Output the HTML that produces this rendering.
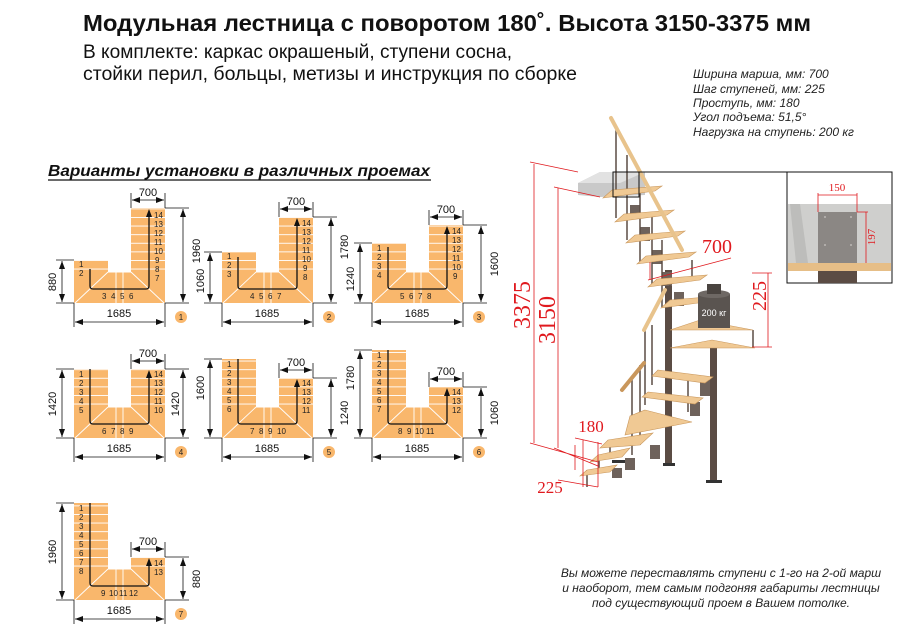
<!DOCTYPE html>
<html><head><meta charset="utf-8"><style>
html,body{margin:0;padding:0;background:#fff}
svg{display:block}
.t{font-family:"Liberation Sans","DejaVu Sans",sans-serif}
.n{font-family:"Liberation Sans Narrow","Liberation Sans",sans-serif;font-size:8px;fill:#222}
.d{font-family:"Liberation Sans Narrow","Liberation Sans",sans-serif;font-size:11px;fill:#111}
.r{font-family:"Liberation Serif",serif;fill:#e0191e}
.i{font-family:"Liberation Sans Narrow","Liberation Sans",sans-serif;font-style:italic;font-size:12px;fill:#222}
</style></head><body>
<svg width="900" height="637" viewBox="0 0 900 637" xmlns="http://www.w3.org/2000/svg">
<defs>
<pattern id="st" patternUnits="userSpaceOnUse" width="40" height="8.6"><rect width="40" height="8.6" fill="#f9b76c"/><rect width="40" height="0.9" fill="#fff"/></pattern>
<marker id="ah" markerWidth="8" markerHeight="8" refX="4" refY="4" orient="auto" markerUnits="userSpaceOnUse"><path d="M0,1 L8,4 L0,7 Z" fill="#111"/></marker>
<marker id="da" markerWidth="8" markerHeight="6" refX="8" refY="3" orient="auto-start-reverse" markerUnits="userSpaceOnUse"><path d="M0,0 L8,3 L0,6 Z" fill="#111"/></marker>
</defs>

<text class="t" x="83" y="31" font-size="23" font-weight="bold" fill="#111" textLength="728" lengthAdjust="spacingAndGlyphs">Модульная лестница с поворотом 180˚. Высота 3150-3375 мм</text>
<text class="t" x="83" y="58" font-size="19" fill="#111" textLength="429" lengthAdjust="spacingAndGlyphs">В комплекте: каркас окрашеный, ступени сосна,</text>
<text class="t" x="83" y="80" font-size="19" fill="#111" textLength="494" lengthAdjust="spacingAndGlyphs">стойки перил, больцы, метизы и инструкция по сборке</text>

<text class="i" x="693" y="78">Ширина марша, мм: 700</text>
<text class="i" x="693" y="93">Шаг ступеней, мм: 225</text>
<text class="i" x="693" y="107">Проступь, мм: 180</text>
<text class="i" x="693" y="121">Угол подъема: 51,5°</text>
<text class="i" x="693" y="136">Нагрузка на ступень: 200 кг</text>

<text class="t" x="48" y="176" font-size="16" font-weight="bold" font-style="italic" fill="#111" textLength="382" lengthAdjust="spacingAndGlyphs">Варианты установки в различных проемах</text>
<line x1="48" y1="180" x2="431" y2="180" stroke="#111" stroke-width="1.2"/>

<!-- PLAN 1 -->
<g transform="translate(74,303)">
<rect x="0" y="-43" width="34" height="43" fill="url(#st)"/><rect x="57" y="-95" width="34" height="95" fill="url(#st)"/><rect x="0" y="-31" width="91" height="31" fill="#f9b76c"/>
<g stroke="#fff" stroke-width="0.9"><line x1="34" y1="-31" x2="1" y2="0"/><line x1="57" y1="-31" x2="90" y2="0"/><line x1="42" y1="-31" x2="42" y2="0"/><line x1="49" y1="-31" x2="49" y2="0"/><line x1="34" y1="-31" x2="57" y2="-31"/></g>
<path d="M16,-34 V-17 Q16,-14 19,-14 H72 Q75,-14 75,-17 V-90" fill="none" stroke="#111" stroke-width="1.3" marker-end="url(#ah)"/>
<g class="n"><text x="5" y="-36">1</text><text x="5" y="-27">2</text><text x="28" y="-4">3</text><text x="37" y="-4">4</text><text x="46" y="-4">5</text><text x="55" y="-4">6</text>
<text x="80" y="-85">14</text><text x="80" y="-76">13</text><text x="80" y="-67">12</text><text x="80" y="-58">11</text><text x="80" y="-49">10</text><text x="81" y="-40">9</text><text x="81" y="-31">8</text><text x="81" y="-22">7</text></g>
<g stroke="#111" stroke-width="0.8" fill="none"><path d="M-18,0 H0 M-18,-43 H0 M91,0 H115 M91,-95 H115 M0,0 V24 M91,0 V24 M57,-95 V-110 M91,-95 V-110"/>
<line x1="-12" y1="-42" x2="-12" y2="-1" marker-start="url(#da)" marker-end="url(#da)"/><line x1="109" y1="-94" x2="109" y2="-1" marker-start="url(#da)" marker-end="url(#da)"/><line x1="1" y1="19" x2="90" y2="19" marker-start="url(#da)" marker-end="url(#da)"/><line x1="58" y1="-103" x2="90" y2="-103" marker-start="url(#da)" marker-end="url(#da)"/></g>
<g class="d"><text x="45" y="14" text-anchor="middle">1685</text><text x="74" y="-107" text-anchor="middle">700</text><text transform="translate(-18,-21) rotate(-90)" text-anchor="middle">880</text><text transform="translate(126,-52) rotate(-90)" text-anchor="middle">1960</text></g>
<circle cx="107" cy="14" r="6" fill="#f9b76c"/><text class="n" x="107" y="17" text-anchor="middle">1</text>
</g>

<!-- PLAN 2 -->
<g transform="translate(222,303)">
<rect x="0" y="-51" width="34" height="51" fill="url(#st)"/><rect x="57" y="-86" width="34" height="86" fill="url(#st)"/><rect x="0" y="-31" width="91" height="31" fill="#f9b76c"/>
<g stroke="#fff" stroke-width="0.9"><line x1="34" y1="-31" x2="1" y2="0"/><line x1="57" y1="-31" x2="90" y2="0"/><line x1="42" y1="-31" x2="42" y2="0"/><line x1="49" y1="-31" x2="49" y2="0"/><line x1="34" y1="-31" x2="57" y2="-31"/></g>
<path d="M16,-46 V-17 Q16,-14 19,-14 H72 Q75,-14 75,-17 V-81" fill="none" stroke="#111" stroke-width="1.3" marker-end="url(#ah)"/>
<g class="n"><text x="5" y="-44">1</text><text x="5" y="-35">2</text><text x="5" y="-26">3</text><text x="28" y="-4">4</text><text x="37" y="-4">5</text><text x="46" y="-4">6</text><text x="55" y="-4">7</text>
<text x="80" y="-77">14</text><text x="80" y="-68">13</text><text x="80" y="-59">12</text><text x="80" y="-50">11</text><text x="80" y="-41">10</text><text x="81" y="-32">9</text><text x="81" y="-23">8</text></g>
<g stroke="#111" stroke-width="0.8" fill="none"><path d="M-18,0 H0 M-18,-51 H0 M91,0 H115 M91,-86 H115 M0,0 V24 M91,0 V24 M57,-86 V-101 M91,-86 V-101"/>
<line x1="-12" y1="-50" x2="-12" y2="-1" marker-start="url(#da)" marker-end="url(#da)"/><line x1="109" y1="-85" x2="109" y2="-1" marker-start="url(#da)" marker-end="url(#da)"/><line x1="1" y1="19" x2="90" y2="19" marker-start="url(#da)" marker-end="url(#da)"/><line x1="58" y1="-94" x2="90" y2="-94" marker-start="url(#da)" marker-end="url(#da)"/></g>
<g class="d"><text x="45" y="14" text-anchor="middle">1685</text><text x="74" y="-98" text-anchor="middle">700</text><text transform="translate(-18,-22) rotate(-90)" text-anchor="middle">1060</text><text transform="translate(126,-56) rotate(-90)" text-anchor="middle">1780</text></g>
<circle cx="107" cy="14" r="6" fill="#f9b76c"/><text class="n" x="107" y="17" text-anchor="middle">2</text>
</g>

<!-- PLAN 3 -->
<g transform="translate(372,303)">
<rect x="0" y="-60" width="34" height="60" fill="url(#st)"/><rect x="57" y="-78" width="34" height="78" fill="url(#st)"/><rect x="0" y="-31" width="91" height="31" fill="#f9b76c"/>
<g stroke="#fff" stroke-width="0.9"><line x1="34" y1="-31" x2="1" y2="0"/><line x1="57" y1="-31" x2="90" y2="0"/><line x1="42" y1="-31" x2="42" y2="0"/><line x1="49" y1="-31" x2="49" y2="0"/><line x1="34" y1="-31" x2="57" y2="-31"/></g>
<path d="M16,-56 V-17 Q16,-14 19,-14 H72 Q75,-14 75,-17 V-73" fill="none" stroke="#111" stroke-width="1.3" marker-end="url(#ah)"/>
<g class="n"><text x="5" y="-52">1</text><text x="5" y="-43">2</text><text x="5" y="-34">3</text><text x="5" y="-25">4</text><text x="28" y="-4">5</text><text x="37" y="-4">6</text><text x="46" y="-4">7</text><text x="55" y="-4">8</text>
<text x="80" y="-69">14</text><text x="80" y="-60">13</text><text x="80" y="-51">12</text><text x="80" y="-42">11</text><text x="80" y="-33">10</text><text x="81" y="-24">9</text></g>
<g stroke="#111" stroke-width="0.8" fill="none"><path d="M-18,0 H0 M-18,-60 H0 M91,0 H115 M91,-78 H115 M0,0 V24 M91,0 V24 M57,-78 V-93 M91,-78 V-93"/>
<line x1="-12" y1="-59" x2="-12" y2="-1" marker-start="url(#da)" marker-end="url(#da)"/><line x1="109" y1="-77" x2="109" y2="-1" marker-start="url(#da)" marker-end="url(#da)"/><line x1="1" y1="19" x2="90" y2="19" marker-start="url(#da)" marker-end="url(#da)"/><line x1="58" y1="-86" x2="90" y2="-86" marker-start="url(#da)" marker-end="url(#da)"/></g>
<g class="d"><text x="45" y="14" text-anchor="middle">1685</text><text x="74" y="-90" text-anchor="middle">700</text><text transform="translate(-18,-24) rotate(-90)" text-anchor="middle">1240</text><text transform="translate(126,-39) rotate(-90)" text-anchor="middle">1600</text></g>
<circle cx="107" cy="14" r="6" fill="#f9b76c"/><text class="n" x="107" y="17" text-anchor="middle">3</text>
</g>

<!-- PLAN 4 -->
<g transform="translate(74,438)">
<rect x="0" y="-69" width="34" height="69" fill="url(#st)"/><rect x="57" y="-69" width="34" height="69" fill="url(#st)"/><rect x="0" y="-31" width="91" height="31" fill="#f9b76c"/>
<g stroke="#fff" stroke-width="0.9"><line x1="34" y1="-31" x2="1" y2="0"/><line x1="57" y1="-31" x2="90" y2="0"/><line x1="42" y1="-31" x2="42" y2="0"/><line x1="49" y1="-31" x2="49" y2="0"/><line x1="34" y1="-31" x2="57" y2="-31"/></g>
<path d="M16,-69 V-17 Q16,-14 19,-14 H72 Q75,-14 75,-17 V-64" fill="none" stroke="#111" stroke-width="1.3" marker-end="url(#ah)"/>
<g class="n"><text x="5" y="-61">1</text><text x="5" y="-52">2</text><text x="5" y="-43">3</text><text x="5" y="-34">4</text><text x="5" y="-25">5</text><text x="28" y="-4">6</text><text x="37" y="-4">7</text><text x="46" y="-4">8</text><text x="55" y="-4">9</text>
<text x="80" y="-61">14</text><text x="80" y="-52">13</text><text x="80" y="-43">12</text><text x="80" y="-34">11</text><text x="80" y="-25">10</text></g>
<g stroke="#111" stroke-width="0.8" fill="none"><path d="M-18,0 H0 M-18,-69 H0 M91,0 H115 M91,-69 H115 M0,0 V24 M91,0 V24 M57,-69 V-84 M91,-69 V-84"/>
<line x1="-12" y1="-68" x2="-12" y2="-1" marker-start="url(#da)" marker-end="url(#da)"/><line x1="109" y1="-68" x2="109" y2="-1" marker-start="url(#da)" marker-end="url(#da)"/><line x1="1" y1="19" x2="90" y2="19" marker-start="url(#da)" marker-end="url(#da)"/><line x1="58" y1="-77" x2="90" y2="-77" marker-start="url(#da)" marker-end="url(#da)"/></g>
<g class="d"><text x="45" y="14" text-anchor="middle">1685</text><text x="74" y="-81" text-anchor="middle">700</text><text transform="translate(-18,-34) rotate(-90)" text-anchor="middle">1420</text><text transform="translate(105,-34) rotate(-90)" text-anchor="middle">1420</text></g>
<circle cx="107" cy="14" r="6" fill="#f9b76c"/><text class="n" x="107" y="17" text-anchor="middle">4</text>
</g>

<!-- PLAN 5 -->
<g transform="translate(222,438)">
<rect x="0" y="-79" width="34" height="79" fill="url(#st)"/><rect x="57" y="-60" width="34" height="60" fill="url(#st)"/><rect x="0" y="-31" width="91" height="31" fill="#f9b76c"/>
<g stroke="#fff" stroke-width="0.9"><line x1="34" y1="-31" x2="1" y2="0"/><line x1="57" y1="-31" x2="90" y2="0"/><line x1="42" y1="-31" x2="42" y2="0"/><line x1="49" y1="-31" x2="49" y2="0"/><line x1="34" y1="-31" x2="57" y2="-31"/></g>
<path d="M16,-79 V-17 Q16,-14 19,-14 H72 Q75,-14 75,-17 V-55" fill="none" stroke="#111" stroke-width="1.3" marker-end="url(#ah)"/>
<g class="n"><text x="5" y="-71">1</text><text x="5" y="-62">2</text><text x="5" y="-53">3</text><text x="5" y="-44">4</text><text x="5" y="-35">5</text><text x="5" y="-26">6</text><text x="28" y="-4">7</text><text x="37" y="-4">8</text><text x="46" y="-4">9</text><text x="55" y="-4">10</text>
<text x="80" y="-52">14</text><text x="80" y="-43">13</text><text x="80" y="-34">12</text><text x="80" y="-25">11</text></g>
<g stroke="#111" stroke-width="0.8" fill="none"><path d="M-18,0 H0 M-18,-79 H0 M91,0 H115 M91,-60 H115 M0,0 V24 M91,0 V24 M57,-60 V-75 M91,-60 V-75"/>
<line x1="-12" y1="-78" x2="-12" y2="-1" marker-start="url(#da)" marker-end="url(#da)"/><line x1="109" y1="-59" x2="109" y2="-1" marker-start="url(#da)" marker-end="url(#da)"/><line x1="1" y1="19" x2="90" y2="19" marker-start="url(#da)" marker-end="url(#da)"/><line x1="58" y1="-68" x2="90" y2="-68" marker-start="url(#da)" marker-end="url(#da)"/></g>
<g class="d"><text x="45" y="14" text-anchor="middle">1685</text><text x="74" y="-72" text-anchor="middle">700</text><text transform="translate(-18,-50) rotate(-90)" text-anchor="middle">1600</text><text transform="translate(126,-25) rotate(-90)" text-anchor="middle">1240</text></g>
<circle cx="107" cy="14" r="6" fill="#f9b76c"/><text class="n" x="107" y="17" text-anchor="middle">5</text>
</g>

<!-- PLAN 6 -->
<g transform="translate(372,438)">
<rect x="0" y="-88" width="34" height="88" fill="url(#st)"/><rect x="57" y="-51" width="34" height="51" fill="url(#st)"/><rect x="0" y="-31" width="91" height="31" fill="#f9b76c"/>
<g stroke="#fff" stroke-width="0.9"><line x1="34" y1="-31" x2="1" y2="0"/><line x1="57" y1="-31" x2="90" y2="0"/><line x1="42" y1="-31" x2="42" y2="0"/><line x1="49" y1="-31" x2="49" y2="0"/><line x1="34" y1="-31" x2="57" y2="-31"/></g>
<path d="M16,-88 V-17 Q16,-14 19,-14 H72 Q75,-14 75,-17 V-46" fill="none" stroke="#111" stroke-width="1.3" marker-end="url(#ah)"/>
<g class="n"><text x="5" y="-80">1</text><text x="5" y="-71">2</text><text x="5" y="-62">3</text><text x="5" y="-53">4</text><text x="5" y="-44">5</text><text x="5" y="-35">6</text><text x="5" y="-26">7</text><text x="26" y="-4">8</text><text x="35" y="-4">9</text><text x="43" y="-4">10</text><text x="54" y="-4">11</text>
<text x="80" y="-43">14</text><text x="80" y="-34">13</text><text x="80" y="-25">12</text></g>
<g stroke="#111" stroke-width="0.8" fill="none"><path d="M-18,0 H0 M-18,-88 H0 M91,0 H115 M91,-51 H115 M0,0 V24 M91,0 V24 M57,-51 V-66 M91,-51 V-66"/>
<line x1="-12" y1="-87" x2="-12" y2="-1" marker-start="url(#da)" marker-end="url(#da)"/><line x1="109" y1="-50" x2="109" y2="-1" marker-start="url(#da)" marker-end="url(#da)"/><line x1="1" y1="19" x2="90" y2="19" marker-start="url(#da)" marker-end="url(#da)"/><line x1="58" y1="-59" x2="90" y2="-59" marker-start="url(#da)" marker-end="url(#da)"/></g>
<g class="d"><text x="45" y="14" text-anchor="middle">1685</text><text x="74" y="-63" text-anchor="middle">700</text><text transform="translate(-18,-60) rotate(-90)" text-anchor="middle">1780</text><text transform="translate(126,-25) rotate(-90)" text-anchor="middle">1060</text></g>
<circle cx="107" cy="14" r="6" fill="#f9b76c"/><text class="n" x="107" y="17" text-anchor="middle">6</text>
</g>

<!-- PLAN 7 -->
<g transform="translate(74,600)">
<rect x="0" y="-97" width="34" height="97" fill="url(#st)"/><rect x="57" y="-43" width="34" height="43" fill="url(#st)"/><rect x="0" y="-31" width="91" height="31" fill="#f9b76c"/>
<g stroke="#fff" stroke-width="0.9"><line x1="34" y1="-31" x2="1" y2="0"/><line x1="57" y1="-31" x2="90" y2="0"/><line x1="42" y1="-31" x2="42" y2="0"/><line x1="49" y1="-31" x2="49" y2="0"/><line x1="34" y1="-31" x2="57" y2="-31"/></g>
<path d="M16,-97 V-17 Q16,-14 19,-14 H72 Q75,-14 75,-17 V-38" fill="none" stroke="#111" stroke-width="1.3" marker-end="url(#ah)"/>
<g class="n"><text x="5" y="-89">1</text><text x="5" y="-80">2</text><text x="5" y="-71">3</text><text x="5" y="-62">4</text><text x="5" y="-53">5</text><text x="5" y="-44">6</text><text x="5" y="-35">7</text><text x="5" y="-26">8</text><text x="27" y="-4">9</text><text x="35" y="-4">10</text><text x="45" y="-4">11</text><text x="55" y="-4">12</text>
<text x="80" y="-34">14</text><text x="80" y="-25">13</text></g>
<g stroke="#111" stroke-width="0.8" fill="none"><path d="M-18,0 H0 M-18,-97 H0 M91,0 H115 M91,-43 H115 M0,0 V24 M91,0 V24 M57,-43 V-58 M91,-43 V-58"/>
<line x1="-12" y1="-96" x2="-12" y2="-1" marker-start="url(#da)" marker-end="url(#da)"/><line x1="109" y1="-42" x2="109" y2="-1" marker-start="url(#da)" marker-end="url(#da)"/><line x1="1" y1="19" x2="90" y2="19" marker-start="url(#da)" marker-end="url(#da)"/><line x1="58" y1="-51" x2="90" y2="-51" marker-start="url(#da)" marker-end="url(#da)"/></g>
<g class="d"><text x="45" y="14" text-anchor="middle">1685</text><text x="74" y="-55" text-anchor="middle">700</text><text transform="translate(-18,-48) rotate(-90)" text-anchor="middle">1960</text><text transform="translate(126,-21) rotate(-90)" text-anchor="middle">880</text></g>
<circle cx="107" cy="14" r="6" fill="#f9b76c"/><text class="n" x="107" y="17" text-anchor="middle">7</text>
</g>

<!-- STAIRCASE -->
<g>
<polygon points="578,183 600,172 645,172 645,195 600,197 578,195" fill="#c9c9c9"/>
<polygon points="578,183 600,172 645,172 620,183" fill="#e2e2e2"/>
<rect x="665" y="270" width="7" height="195" fill="#5b4c44"/>
<rect x="710" y="345" width="7" height="137" fill="#5b4c44"/>
<rect x="663" y="463" width="12" height="3" fill="#333"/><rect x="706" y="480" width="16" height="3" fill="#333"/>
<rect x="612" y="460" width="14" height="3" fill="#333"/>
<g fill="#6e625b">
<rect x="630" y="205" width="10" height="14"/><rect x="640" y="227" width="10" height="14"/><rect x="652" y="250" width="10" height="14"/><rect x="662" y="272" width="10" height="14"/><rect x="674" y="292" width="10" height="14"/>
<rect x="700" y="380" width="10" height="16"/><rect x="690" y="402" width="10" height="14"/><rect x="650" y="445" width="10" height="14"/><rect x="625" y="458" width="10" height="12"/><rect x="612" y="468" width="10" height="10"/>
</g>
<g stroke="#5b4c44" stroke-width="1.5">
<line x1="616" y1="130" x2="616" y2="218"/><line x1="627" y1="155" x2="627" y2="240"/><line x1="640" y1="190" x2="640" y2="262"/><line x1="652" y1="215" x2="652" y2="285"/><line x1="662" y1="240" x2="662" y2="307"/>
<line x1="692" y1="260" x2="692" y2="280"/><line x1="670" y1="285" x2="670" y2="300"/>
<line x1="652" y1="325" x2="652" y2="385"/><line x1="645" y1="330" x2="645" y2="405"/>
<line x1="640" y1="365" x2="640" y2="445"/><line x1="632" y1="380" x2="632" y2="455"/>
<line x1="753" y1="330" x2="753" y2="348"/><line x1="688" y1="378" x2="688" y2="412"/>
<line x1="599" y1="455" x2="599" y2="470"/><line x1="587" y1="470" x2="587" y2="487"/><line x1="610" y1="440" x2="610" y2="455"/>
</g>
<g fill="#f0c994" stroke="#c9975c" stroke-width="0.6">
<polygon points="603,198 655,191 662,186 612,190"/>
<polygon points="615,222 667,215 674,210 624,214"/>
<polygon points="626,243 678,236 685,231 635,235"/>
<polygon points="637,264 689,257 696,252 646,256"/>
<polygon points="648,287 700,280 707,275 657,279"/>
<polygon points="661,308 713,301 720,296 670,300"/>
<polygon points="670,330 753,330 700,320"/>
<polygon points="670,348 755,348 712,340"/>
<polygon points="658,370 713,377 705,383 652,376"/>
<polygon points="648,392 703,398 695,404 642,397"/>
<polygon points="645,410 692,422 625,435 630,416"/>
<polygon points="608,440 653,433 640,445 600,448"/>
<polygon points="598,455 630,448 622,457 590,462"/>
<polygon points="587,470 617,465 610,472 580,476"/>
</g>
<line x1="611" y1="118" x2="682" y2="250" stroke="#e8c38c" stroke-width="4" stroke-linecap="round"/>
<line x1="665" y1="290" x2="644" y2="330" stroke="#e8c38c" stroke-width="4" stroke-linecap="round"/>
<line x1="644" y1="363" x2="622" y2="390" stroke="#c9975c" stroke-width="4" stroke-linecap="round"/>
<rect x="698" y="294" width="32" height="34" fill="#5a5450"/>
<ellipse cx="714" cy="294" rx="16" ry="4" fill="#6e6864"/>
<rect x="707" y="284" width="14" height="10" fill="#4a4440"/>
<text class="t" x="714" y="316" font-size="9" fill="#fff" text-anchor="middle">200 кг</text>
<rect x="613" y="172" width="26" height="25" fill="none" stroke="#111" stroke-width="1"/>
<line x1="639" y1="172" x2="787" y2="172" stroke="#111" stroke-width="1"/>
<g stroke="#e0191e" stroke-width="0.8" fill="none">
<path d="M530,162 L578,172 M554,187 L600,197 M530,443 L598,462 M554,448 L598,466"/>
<line x1="534" y1="164" x2="534" y2="443"/><line x1="558" y1="188" x2="558" y2="448"/>
<path d="M650,280 L650,262 M648,280 L731,258"/>
<path d="M768,273 V347 M752,273 H772 M752,347 H772"/>
<path d="M575,438 L602,444 M583,440 V487 M598,442 V487 M558,480 L598,487 M575,445 V470"/>
</g>
<text class="r" font-size="24" transform="translate(530,305) rotate(-90)" text-anchor="middle">3375</text>
<text class="r" font-size="24" transform="translate(555,320) rotate(-90)" text-anchor="middle">3150</text>
<text class="r" font-size="20" x="717" y="253" text-anchor="middle">700</text>
<text class="r" font-size="20" transform="translate(766,296) rotate(-90)" text-anchor="middle">225</text>
<text class="r" font-size="17" x="591" y="432" text-anchor="middle">180</text>
<text class="r" font-size="17" x="550" y="493" text-anchor="middle">225</text>
</g>

<g>
<rect x="787" y="172" width="105" height="111" fill="#fff" stroke="#111" stroke-width="1"/>
<rect x="788" y="204" width="103" height="59" fill="#cfcfcd"/>
<polygon points="790,204 800,204 808,263 796,263" fill="#bdbdbb"/>
<rect x="818" y="212" width="39" height="51" fill="#8b8784"/>
<g fill="#bcb8b5"><circle cx="825" cy="217" r="1"/><circle cx="851" cy="217" r="1"/><circle cx="825" cy="245" r="1"/><circle cx="851" cy="245" r="1"/></g>
<rect x="788" y="263" width="103" height="8" fill="#e6be87"/>
<rect x="818" y="271" width="39" height="12" fill="#5b4c44"/>
<g stroke="#e0191e" stroke-width="0.8" fill="none"><path d="M818,212 V193 M857,212 V193 M818,195 H857 M857,212 H868 M866,212 V263"/></g>
<text class="r" font-size="11" x="837" y="191" text-anchor="middle">150</text>
<text class="r" font-size="11" transform="translate(875,237) rotate(-90)" text-anchor="middle">197</text>
</g>

<text class="i" x="721" y="577" text-anchor="middle" font-size="11.5">Вы можете переставлять ступени с 1-го на 2-ой марш</text>
<text class="i" x="721" y="592" text-anchor="middle" font-size="11.5">и наоборот, тем самым подгоняя габариты лестницы</text>
<text class="i" x="721" y="607" text-anchor="middle" font-size="11.5">под существующий проем в Вашем потолке.</text>
</svg>
</body></html>
